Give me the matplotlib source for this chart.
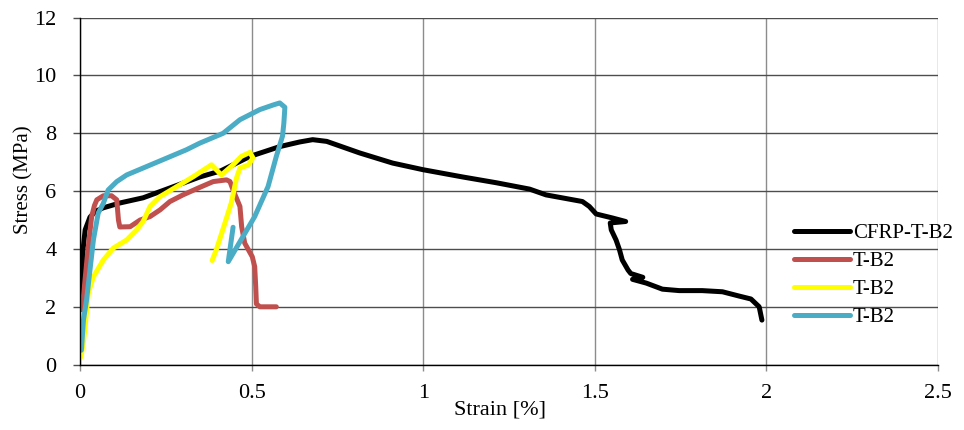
import matplotlib
matplotlib.use("Agg")
import matplotlib.pyplot as plt

plt.rcParams["font.family"] = ["Liberation Serif", "DejaVu Serif"]

# CFRP-T-B2 (black)
cfrp_strain = [0.004, 0.006, 0.009, 0.015, 0.029, 0.045, 0.067, 0.116, 0.184, 0.223,
               0.262, 0.349, 0.41, 0.495, 0.582, 0.64, 0.678, 0.719, 0.815, 0.911,
               1.0, 1.115, 1.213, 1.31, 1.358, 1.464, 1.484, 1.504, 1.552, 1.59,
               1.545, 1.548, 1.562, 1.572, 1.58, 1.597, 1.605, 1.64, 1.61, 1.65,
               1.697, 1.746, 1.813, 1.872, 1.921, 1.955, 1.979, 1.987]
cfrp_stress = [2.1, 3.0, 4.0, 4.66, 5.1, 5.3, 5.42, 5.59, 5.77, 5.94,
               6.11, 6.49, 6.7, 7.2, 7.54, 7.7, 7.78, 7.72, 7.32, 6.97,
               6.74, 6.49, 6.29, 6.07, 5.87, 5.64, 5.47, 5.21, 5.07, 4.95,
               4.9, 4.66, 4.31, 3.97, 3.62, 3.27, 3.15, 3.02, 2.95, 2.82,
               2.61, 2.56, 2.56, 2.52, 2.37, 2.27, 2.0, 1.54]

# T-B2 (red)
red_strain = [0.006, 0.012, 0.02, 0.028, 0.034, 0.042, 0.049, 0.068, 0.092, 0.107,
              0.112, 0.116, 0.146, 0.175, 0.204, 0.233, 0.262, 0.30, 0.349, 0.388,
              0.427, 0.437, 0.446, 0.466, 0.471, 0.48, 0.502, 0.509, 0.512, 0.514,
              0.524, 0.572]
red_stress = [1.9, 2.6, 3.6, 4.5, 5.12, 5.5, 5.7, 5.84, 5.84, 5.7,
              5.0, 4.76, 4.77, 5.0, 5.12, 5.35, 5.64, 5.87, 6.13, 6.33,
              6.39, 6.33, 6.04, 5.47, 4.77, 4.2, 3.73, 3.39, 2.7, 2.1,
              2.0, 2.0]

# T-B2 (yellow)
yel_strain = [0.003, 0.01, 0.015, 0.024, 0.039, 0.068, 0.097, 0.136, 0.165, 0.184,
              0.204, 0.233, 0.291, 0.33, 0.383, 0.412, 0.446, 0.47, 0.495, 0.504,
              0.49, 0.466, 0.456, 0.441, 0.417, 0.398, 0.385]
yel_stress = [0.27, 0.8, 1.31, 2.47, 3.04, 3.62, 4.03, 4.31, 4.66, 4.95,
              5.47, 5.81, 6.22, 6.5, 6.91, 6.56, 6.91, 7.2, 7.34, 7.15,
              6.9, 6.8, 6.45, 5.6, 4.7, 4.0, 3.6]

# T-B2 (blue)
blu_strain = [0.004, 0.01, 0.019, 0.029, 0.039, 0.053, 0.068, 0.082, 0.107, 0.136,
              0.194, 0.252, 0.31, 0.349, 0.417, 0.466, 0.524, 0.563, 0.582, 0.597,
              0.594, 0.59, 0.572, 0.548, 0.509, 0.466, 0.432, 0.446]
blu_stress = [0.5, 1.54, 2.23, 3.27, 4.31, 5.24, 5.58, 6.04, 6.33, 6.56,
              6.85, 7.14, 7.43, 7.66, 8.0, 8.47, 8.82, 8.98, 9.05, 8.9,
              8.35, 7.9, 7.2, 6.16, 5.12, 4.25, 3.56, 4.75]

labels = ["CFRP-T-B2", "T-B2", "T-B2", "T-B2"]
colors = ["#000000", "#C0504D", "#FFFF00", "#4BACC6"]

fig = plt.figure(figsize=(9.64, 4.30), dpi=100)
ax = fig.add_axes([0.083, 0.152, 0.890, 0.807])

series = [(cfrp_strain, cfrp_stress), (red_strain, red_stress),
          (yel_strain, yel_stress), (blu_strain, blu_stress)]
for (sx, sy), lab, c in zip(series, labels, colors):
    ax.plot(sx, sy, color=c, lw=3.6, label=lab,
            solid_capstyle="round", solid_joinstyle="round")

ax.set_xlim(0, 2.5)
ax.set_ylim(0, 12)
ax.set_xticks([0, 0.5, 1, 1.5, 2, 2.5])
ax.set_xticklabels(["0", "0.5", "1", "1.5", "2", "2.5"])
ax.set_yticks(range(0, 13, 2))

ax.xaxis.grid(True, color="#8c8c8c", lw=1.0)
ax.yaxis.grid(True, color="#4d4d4d", lw=1.0)
ax.set_axisbelow(True)
for s in ["top", "right"]:
    ax.spines[s].set_visible(False)
ax.spines["left"].set_linewidth(1.0)
ax.spines["bottom"].set_linewidth(1.0)

ax.tick_params(axis="x", direction="out", length=4.5, width=1, colors="#8c8c8c",
               labelcolor="black", labelsize=16, pad=9.5)
ax.tick_params(axis="y", direction="out", length=5, width=1, colors="#4d4d4d",
               labelcolor="black", labelsize=16, pad=12)

ax.set_xlabel("Strain [%]", fontsize=16)
ax.xaxis.set_label_coords(0.4895, -0.131)
ax.xaxis.label.set_va("center")
ax.set_ylabel("Stress (MPa)", fontsize=15)
ax.yaxis.set_label_coords(-0.066, 0.532)
ax.yaxis.label.set_va("center")

ax.legend(loc="center left", bbox_to_anchor=(0.824, 0.36),
          bbox_transform=fig.transFigure, frameon=False, fontsize=15,
          handlelength=2.65, handletextpad=0.15, labelspacing=0.41,
          borderpad=0, borderaxespad=0)

fig.savefig("out.png", dpi=100)
